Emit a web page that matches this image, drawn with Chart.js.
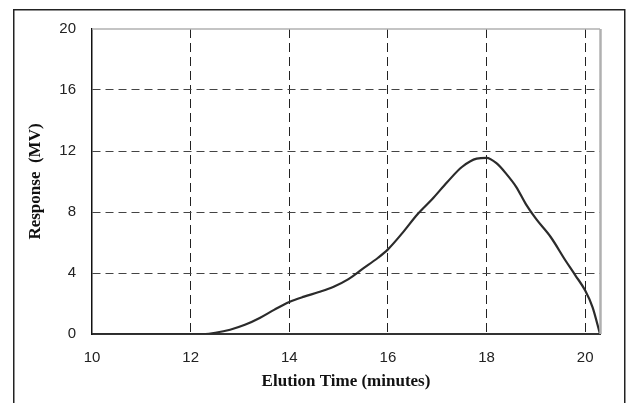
<!DOCTYPE html>
<html>
<head>
<meta charset="utf-8">
<script src="https://cdn.jsdelivr.net/npm/chart.js@4.4.1/dist/chart.umd.min.js"></script>
<style>
  html, body { margin: 0; padding: 0; background: #fff; }
  #wrap { position: relative; width: 627px; height: 403px; }
</style>
</head>
<body>
<div id="wrap"><canvas id="elutionChart" width="627" height="403"></canvas></div>
<script>
// Elution time (minutes) and detector response (MV)
const elutionTimes = [10, 12.3, 12.5, 12.8, 13.1, 13.4, 13.7, 14.0, 14.3, 14.6, 14.9, 15.2, 15.5, 15.8, 16.0,
    16.3, 16.6, 16.9, 17.2, 17.5, 17.8, 18.0, 18.2, 18.4, 18.6, 18.8, 19.0, 19.3, 19.6, 19.8, 20.0, 20.15, 20.3];
const responses = [0, 0, 0.08, 0.28, 0.6, 1.05, 1.6, 2.1, 2.45, 2.75, 3.1, 3.6, 4.3, 5.0, 5.55,
    6.65, 7.85, 8.85, 9.95, 10.95, 11.5, 11.55, 11.2, 10.5, 9.65, 8.5, 7.56, 6.36, 4.82, 3.85, 2.85, 1.75, 0];

const xTicks = [10, 12, 14, 16, 18, 20];
const yTicks = [0, 4, 8, 12, 16, 20];

// frame around the whole figure + the grey top/right edges of the plot box
const framePlugin = {
    id: 'frame',
    beforeDraw(chart) {
        const c = chart.ctx;
        c.save();
        c.fillStyle = '#fff';
        c.fillRect(0, 0, chart.width, chart.height);
        c.strokeStyle = '#222';
        c.lineWidth = 1.5;
        c.strokeRect(13.75, 9.75, 611, 500);
        c.restore();
    },
    afterDatasetsDraw(chart) {
        const a = chart.chartArea;
        const c = chart.ctx;
        c.save();
        c.strokeStyle = '#b0b0b0';
        c.lineWidth = 1.5;
        c.beginPath();
        c.moveTo(a.left, a.top);
        c.lineTo(a.right, a.top);
        c.stroke();
        c.lineWidth = 2.5;
        c.beginPath();
        c.moveTo(a.right + 0.5, a.top);
        c.lineTo(a.right + 0.5, a.bottom);
        c.stroke();
        c.restore();
    }
};

const ctx = document.getElementById('elutionChart').getContext('2d');
const myChart = new Chart(ctx, {
    type: 'line',
    data: {
        datasets: [{
            label: 'Response',
            data: elutionTimes.map((t, i) => ({ x: t, y: responses[i] })),
            borderColor: '#2b2b2b',
            borderWidth: 2.2,
            pointRadius: 0,
            cubicInterpolationMode: 'monotone',
            fill: false
        }]
    },
    options: {
        responsive: false,
        animation: false,
        layout: { padding: { left: 0, top: 29, right: 27, bottom: 0 } },
        plugins: { legend: { display: false }, tooltip: { enabled: false } },
        scales: {
            x: {
                type: 'linear',
                min: 10,
                max: 20.3,
                afterBuildTicks: (scale) => { scale.ticks = xTicks.map(v => ({ value: v })); },
                afterFit: (scale) => { scale.height = 69; },
                grid: {
                    drawTicks: false,
                    color: (c) => (c.tick && c.tick.value === 10) ? 'rgba(0,0,0,0)' : '#222',
                    lineWidth: 1
                },
                border: { display: true, color: '#333', width: 2, dash: [9, 5] },
                ticks: {
                    padding: 15,
                    color: '#222',
                    font: { family: 'Liberation Sans', size: 15 }
                },
                title: {
                    display: true,
                    text: 'Elution Time (minutes)',
                    color: '#111',
                    font: { family: 'Liberation Serif', size: 17, weight: 'bold' },
                    padding: { top: 0, bottom: 11 }
                }
            },
            y: {
                min: 0,
                max: 20,
                afterBuildTicks: (scale) => { scale.ticks = yTicks.map(v => ({ value: v })); },
                afterFit: (scale) => { scale.width = 92; },
                grid: {
                    drawTicks: false,
                    color: (c) => (c.tick && (c.tick.value === 0 || c.tick.value === 20)) ? 'rgba(0,0,0,0)' : '#444',
                    lineWidth: 1
                },
                border: { display: true, color: '#111', width: 1.5, dash: [8, 5] },
                ticks: {
                    padding: 16,
                    color: '#222',
                    font: { family: 'Liberation Sans', size: 15 }
                },
                title: {
                    display: true,
                    text: 'Response  (MV)',
                    color: '#111',
                    font: { family: 'Liberation Serif', size: 17, weight: 'bold' },
                    padding: { top: 25, bottom: 0 }
                }
            }
        }
    },
    plugins: [framePlugin]
});
</script>
</body>
</html>
